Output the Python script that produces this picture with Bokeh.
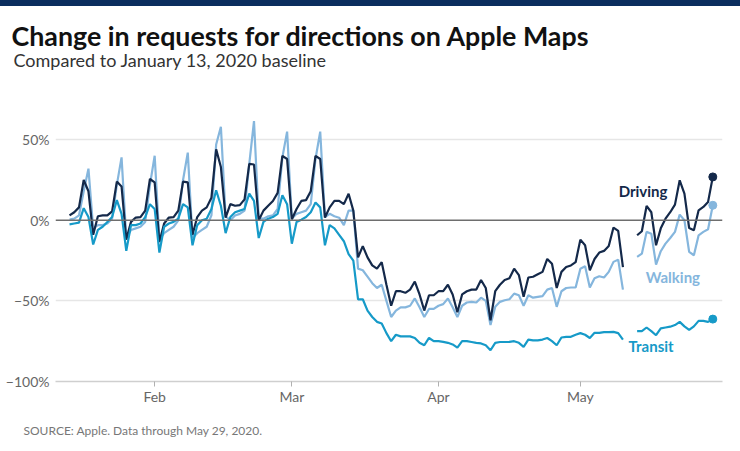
import pandas as pd
from bokeh.plotting import figure
from bokeh.models import Range1d, FixedTicker, Label, Span, Title
from bokeh.embed import file_html
from bokeh.resources import INLINE

nan = float("nan")

# ---- data -------------------------------------------------------------
base_date = "2020-01-13"
dates = pd.date_range("2020-01-14", "2020-05-29", freq="D")

driving = [
    3, 5, 8, 25, 18, -9,
    2.5, 3, 3, 5.5, 24, 21, -12,
    -1, 1.7, 2, 6, 25.6, 23.5, -13.5,
    -2, 1.7, 2, 6, 24, 23.5, -9,
    2, 6, 8, 14, 44, 33, 1.7,
    10, 9, 9.4, 13, 35, 34.6, 0,
    6, 9, 12, 17, 40, 38, 0.6,
    7, 12, 12.5, 18, 40, 38, 1.7,
    8, 12, 12, 10, 16.5, 6, -23,
    -16, -23, -28, -30, -26, -40, -53,
    -44, -44, -45, -43, -38, -46, -56,
    -46.5, -46.5, -44, -44, -40, -46, -57,
    -46, -44, -43, -43, -37, -42, -62,
    -44, -40, -37, -36, -30, -34, -47.5,
    -35.5, -35, -33.5, -32, -24, -27, -42,
    -32, -29, -28, -26, -12, -15.5, -31,
    -24, -20, -19, -16, -4.5, -6.6, -29,
    nan, nan, -9.3, -6.8, 8.9, 5, -15.5,
    -5, 1, 5, 9.7, 24.8, 16.5, -4.8,
    -6.2, 6.2, 8.3, 11.4, 26.9,
]

walking = [
    0.5, 1, 3, 18, 32, -5,
    -3, -3, -2, 1, 22, 39, -11,
    -6, -5, -4, -1, 22, 40, -12,
    -8, -6, -4, 0, 25, 42, -11,
    -8, -6, -4, 3, 47, 58, 2.5,
    0, 3, 4, 6, 35, 61.5, 1,
    1, 2.5, 3, 7, 39, 55, 1,
    4, 5, 6, 10, 38, 55, 2,
    4, 2.5, 1.6, -3, 6, 6, -30,
    -31, -35, -39, -42, -40, -50, -60,
    -56, -54, -54, -53, -48.5, -54, -60,
    -55, -55, -53, -52, -48.5, -54, -60,
    -53, -51, -50.6, -51, -48, -50, -65,
    -53.7, -50.6, -49.6, -49, -45.5, -46.5, -53,
    -46.5, -48, -47.5, -47, -43, -42, -53.7,
    -44, -42, -41.7, -41.7, -30, -28.5, -41.7,
    -36, -34.7, -35.5, -32, -25.8, -24.4, -43,
    nan, nan, -22.7, -20.7, -7.2, -8.3, -27.5,
    -19.2, -14.5, -11, -7.2, 3.5, 0, -19.6,
    -21.7, -9.3, -7.2, -5.6, 9.3,
]

transit = [
    -2.5, -2, -1.5, 7.5, 2, -15,
    -6, -4, -1, 2, 12.5, 4, -19,
    -3, -3, -2, 2, 10, 7, -20,
    -4, -2, -1, 1, 10, 8, -15.5,
    -3, 0, 1, 7, 18.6, 9, -8,
    2, 5, 6, 7, 16.5, 12, -11,
    -1, 1, 2, 4, 15.5, 10, -14.5,
    -1, 0.4, 2, 5, 11, 8, -15.5,
    -3, -5, -9, -13, -21, -25, -49,
    -49, -56, -60, -63, -64, -70, -75,
    -71, -72, -72, -72, -73, -76, -77.5,
    -73, -75, -75, -75.4, -76, -77, -79,
    -75, -75, -75.5, -76, -76.4, -77.5, -80.6,
    -76, -75.5, -75.5, -75.4, -75, -76, -78.5,
    -74, -74.5, -74.5, -74, -73, -75, -77.5,
    -72.7, -72.3, -72.3, -71, -70, -71, -73,
    -69.8, -69.8, -69.4, -69.4, -69.2, -70, -74,
    nan, nan, -68.8, -68.8, -66.5, -68.8, -71.3,
    -67, -66.5, -66, -65, -63, -65.8, -68,
    -65.8, -62.4, -62.4, -63, -61.3,
]

month_tick_dates = ["2020-02-01", "2020-03-01", "2020-04-01", "2020-05-01"]
month_labels = ["Feb", "Mar", "Apr", "May"]
y_ticks = [50, 0, -50, -100]
y_labels = ["50%", "0%", "\u221250%", "\u2212100%"]

# ---- derived x positions (days since baseline) -------------------------
t0 = pd.Timestamp(base_date)
xs = [(d - t0).days for d in dates]
month_ticks = [(pd.Timestamp(t) - t0).days for t in month_tick_dates]

DRIVE = "#14294a"
WALK = "#85b6dd"
TRANSIT = "#169ac8"
FONT = "Lato"

W, H = 740, 451
p = figure(width=W, height=H, output_backend="svg", toolbar_location=None,
           x_range=Range1d(-1.966, 139.05), y_range=Range1d(-100, 74.3),
           min_border_left=55, min_border_right=18, min_border_top=100,
           min_border_bottom=70)
# navy strip along the top of the page (shows through the transparent border)
p.styles = {"background": "linear-gradient(to bottom, #0b2d5e 0px, #0b2d5e 6px, #ffffff 6px, #ffffff 100%)"}
p.outline_line_color = None
p.background_fill_color = "white"
p.border_fill_alpha = 0

# axes
p.xaxis.ticker = FixedTicker(ticks=month_ticks)
p.xaxis.major_label_overrides = {t: l for t, l in zip(month_ticks, month_labels)}
p.xaxis.minor_tick_line_color = None
p.xaxis.axis_line_color = "#cfcfcf"
p.xaxis.axis_line_width = 1.5
p.xaxis.major_tick_line_color = "#b0b0b0"
p.xaxis.major_tick_in = 0
p.xaxis.major_tick_out = 5
p.xaxis.major_label_standoff = 1
p.xaxis.major_label_text_font = FONT
p.xaxis.major_label_text_font_size = "14px"
p.xaxis.major_label_text_color = "#666666"

p.yaxis.ticker = FixedTicker(ticks=y_ticks)
p.yaxis.major_label_overrides = {t: l for t, l in zip(y_ticks, y_labels)}
p.yaxis.axis_line_color = None
p.yaxis.major_tick_line_color = None
p.yaxis.minor_tick_line_color = None
p.yaxis.major_label_standoff = 0
p.yaxis.major_label_text_font = FONT
p.yaxis.major_label_text_font_size = "14px"
p.yaxis.major_label_text_color = "#666666"

p.xgrid.grid_line_color = None
p.ygrid.ticker = FixedTicker(ticks=[t for t in y_ticks if t != 0])
p.ygrid.grid_line_color = "#e6e6e6"
p.ygrid.grid_line_width = 1.5

p.add_layout(Span(location=0, dimension="width", line_color="#6e6e6e", line_width=1.6))

# series
p.line(xs, walking, line_color=WALK, line_width=2.2)
p.line(xs, driving, line_color=DRIVE, line_width=2.2)
p.line(xs, transit, line_color=TRANSIT, line_width=2.2)
p.scatter([xs[-1]], [walking[-1]], size=8, color=WALK)
p.scatter([xs[-1]], [driving[-1]], size=8, color=DRIVE)
p.scatter([xs[-1]], [transit[-1]], size=8, color=TRANSIT)

# series labels
for txt, x, y, c in [("Driving", 117.1, 18.0, DRIVE),
                     ("Walking", 122.8, -35.4, WALK),
                     ("Transit", 119.2, -77.8, TRANSIT)]:
    p.add_layout(Label(x=x, y=y, text=txt, text_color=c, text_font=FONT,
                       text_font_style="bold", text_font_size="15px",
                       text_baseline="alphabetic"))

# header / footer
p.add_layout(Title(text="Compared to January 13, 2020 baseline", align="left",
                   offset=-42, standoff=59, text_font=FONT, text_font_size="18px",
                   text_font_style="normal", text_color="#333333"), "above")
p.add_layout(Title(text="Change in requests for directions on Apple Maps", align="left",
                   offset=-44, standoff=-68, text_font=FONT, text_font_size="26.8px",
                   text_font_style="bold", text_color="#111111"), "above")
p.add_layout(Title(text="SOURCE: Apple. Data through May 29, 2020.", align="left",
                   offset=-32, standoff=26, text_font=FONT, text_font_size="12px",
                   text_font_style="normal", text_color="#777777"), "below")

open("out.html", "w").write(file_html(p, INLINE))
